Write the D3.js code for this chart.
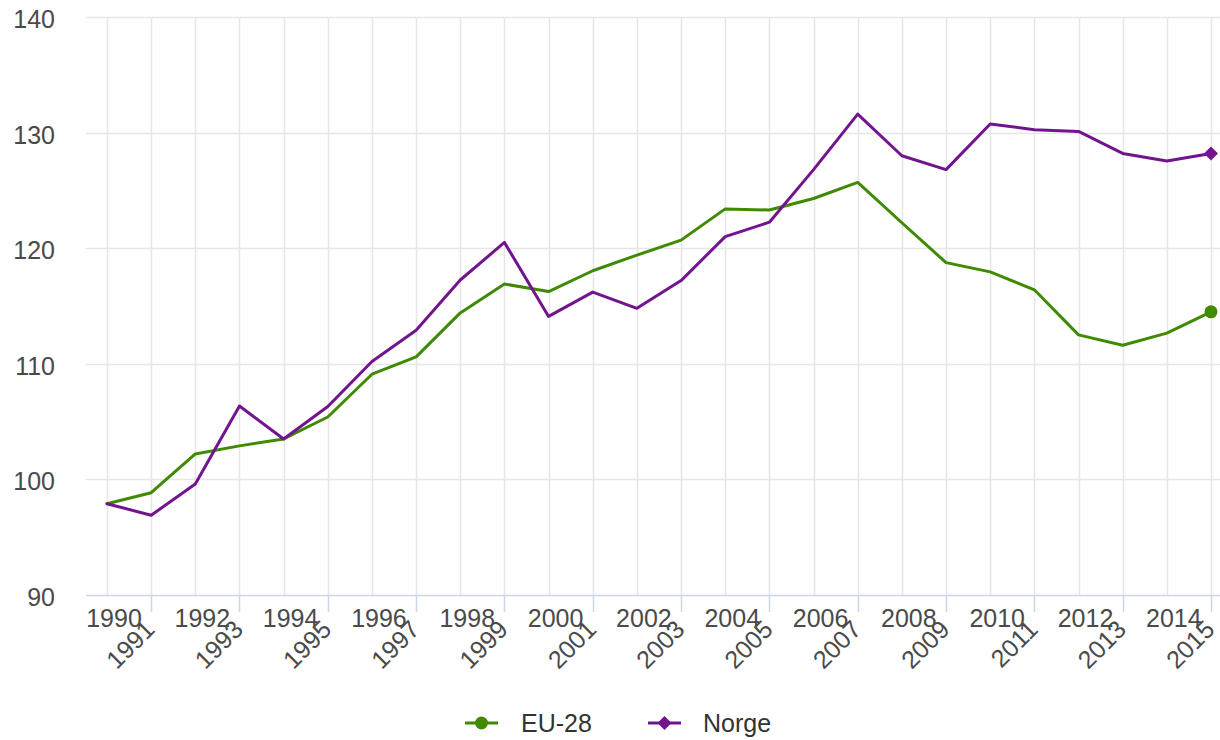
<!DOCTYPE html>
<html>
<head>
<meta charset="utf-8">
<script src="https://cdn.jsdelivr.net/npm/d3@7"></script>
<style>
  html, body { margin: 0; padding: 0; background: #fff; }
  svg { display: block; font-family: "Liberation Sans", Arial, sans-serif; }
</style>
</head>
<body>
<svg id="chart" width="1220" height="740"></svg>
<script>
const years = [1990,1991,1992,1993,1994,1995,1996,1997,1998,1999,2000,2001,2002,2003,2004,2005,2006,2007,2008,2009,2010,2011,2012,2013,2014,2015];
const eu28 = [97.9,98.85,102.2,102.9,103.5,105.4,109.1,110.6,114.4,116.9,116.25,118.05,119.4,120.7,123.4,123.3,124.3,125.7,122.2,118.75,117.95,116.4,112.5,111.6,112.65,114.5];
const norge = [97.9,96.9,99.6,106.35,103.5,106.3,110.2,112.9,117.25,120.5,114.1,116.2,114.8,117.2,121.0,122.25,126.8,131.6,128.0,126.8,130.75,130.25,130.1,128.2,127.55,128.2];
const yTicks = [90,100,110,120,130,140];
const seriesNames = ["EU-28","Norge"];
const seriesColors = ["#3f8a00","#73148f"];

const svg = d3.select("#chart");
const x = d3.scaleLinear().domain([1990,2015]).range([107,1211]);
const y = d3.scaleLinear().domain([90,140]).range([595,17]);
const plotLeft = 86, plotRight = 1220;
const FS = 25;
const diamond = r => `M0,${-r}L${r},0L0,${r}L${-r},0Z`;

// horizontal grid
svg.append("g").selectAll("line").data(yTicks.filter(d => d !== 90)).join("line")
  .attr("x1", plotLeft).attr("x2", plotRight)
  .attr("y1", d => Math.round(y(d)) + 0.5).attr("y2", d => Math.round(y(d)) + 0.5)
  .attr("stroke", "#e6e6e6").attr("stroke-width", 1.5);

// vertical grid
svg.append("g").selectAll("line").data(years).join("line")
  .attr("x1", d => Math.round(x(d)) + 0.5).attr("x2", d => Math.round(x(d)) + 0.5)
  .attr("y1", y(140)).attr("y2", y(90))
  .attr("stroke", "#e6e6e6").attr("stroke-width", 1.5);

// x axis line
svg.append("line").attr("x1", plotLeft).attr("x2", plotRight)
  .attr("y1", Math.round(y(90)) + 0.5).attr("y2", Math.round(y(90)) + 0.5)
  .attr("stroke", "#ccd6eb").attr("stroke-width", 1.5);

// tick marks (odd years)
svg.append("g").selectAll("line").data(years.filter(d => d % 2 === 1)).join("line")
  .attr("x1", d => Math.round(x(d)) + 0.5).attr("x2", d => Math.round(x(d)) + 0.5)
  .attr("y1", y(90)).attr("y2", y(90) + 17)
  .attr("stroke", "#ccd6eb").attr("stroke-width", 1.5);

// y labels
svg.append("g").selectAll("text").data(yTicks).join("text")
  .attr("x", 55).attr("y", d => y(d) + 11)
  .attr("text-anchor", "end").attr("font-size", FS).attr("fill", "#4a4a4a")
  .text(d => d);

// x labels even (horizontal)
svg.append("g").selectAll("text").data(years.filter(d => d % 2 === 0)).join("text")
  .attr("x", d => x(d) + 7).attr("y", 627)
  .attr("text-anchor", "middle").attr("font-size", FS).attr("fill", "#4a4a4a")
  .text(d => d);

// x labels odd (rotated)
svg.append("g").selectAll("text").data(years.filter(d => d % 2 === 1)).join("text")
  .attr("transform", d => `translate(${x(d) + 5},${631}) rotate(-45)`)
  .attr("text-anchor", "end").attr("font-size", FS).attr("fill", "#4a4a4a")
  .text(d => d);

// lines
const line = d3.line().x((d, i) => x(years[i])).y(d => y(d));
[eu28, norge].forEach((s, k) => {
  svg.append("path").datum(s).attr("d", line)
    .attr("fill", "none").attr("stroke", seriesColors[k]).attr("stroke-width", 3)
    .attr("stroke-linejoin", "round").attr("stroke-linecap", "round");
});

// end markers
const last = years.length - 1;
svg.append("circle").attr("cx", x(years[last])).attr("cy", y(eu28[last])).attr("r", 6.5)
  .attr("fill", seriesColors[0]);
svg.append("path").attr("d", diamond(7))
  .attr("transform", `translate(${x(years[last])},${y(norge[last])})`)
  .attr("fill", seriesColors[1]);

// legend
const legendItems = [
  {name: seriesNames[0], color: seriesColors[0], lx: 465, tx: 521, sym: "circle"},
  {name: seriesNames[1], color: seriesColors[1], lx: 648, tx: 703, sym: "diamond"}
];
const lg = svg.append("g");
legendItems.forEach(it => {
  lg.append("line").attr("x1", it.lx).attr("x2", it.lx + 33).attr("y1", 723).attr("y2", 723)
    .attr("stroke", it.color).attr("stroke-width", 3);
  if (it.sym === "circle") {
    lg.append("circle").attr("cx", it.lx + 16.5).attr("cy", 723).attr("r", 6.5).attr("fill", it.color);
  } else {
    lg.append("path").attr("d", diamond(7))
      .attr("transform", `translate(${it.lx + 16.5},723)`).attr("fill", it.color);
  }
  lg.append("text").attr("x", it.tx).attr("y", 732).attr("font-size", FS).attr("fill", "#333")
    .text(it.name);
});
</script>
</body>
</html>
